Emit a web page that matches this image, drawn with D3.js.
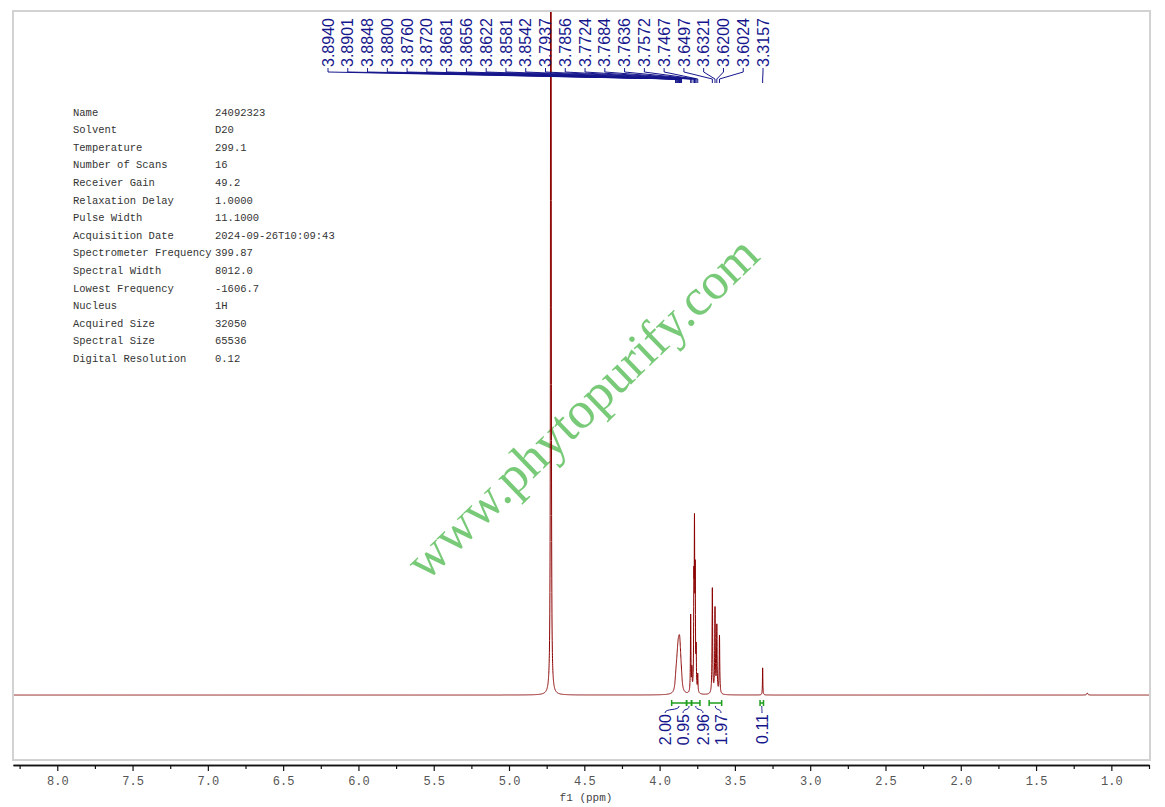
<!DOCTYPE html>
<html><head><meta charset="utf-8">
<script src="https://cdn.jsdelivr.net/npm/d3@7"></script>
<style>body{margin:0;background:#fff;overflow:hidden}</style>
</head><body><svg id="c" width="1165" height="807"></svg>
<script>
// ---- data ----
const peakPpm = [4.722,
  3.8940,3.8901,3.8848,3.8800,3.8760,3.8720,3.8681,3.8656,3.8622,3.8581,3.8542,
  3.7937,3.7856,3.7724,3.7684,3.7636,3.7572,3.7467,
  3.6497,3.6321,3.6200,3.6024,
  3.3157, 1.16];
const peakHeight = [30,
  0.03,0.05,0.075,0.09,0.10,0.10,0.095,0.085,0.07,0.05,0.035,
  0.44,0.12,0.55,0.85,0.62,0.22,0.10,
  0.60,0.48,0.38,0.33,
  0.155, 0.012];
const peakWidth = [0.0009,
  0.0055,0.0055,0.0055,0.0055,0.0055,0.0055,0.0055,0.0055,0.0055,0.0055,0.0055,
  0.0018,0.0018,0.0018,0.0018,0.0018,0.0018,0.0018,
  0.0022,0.0022,0.0022,0.0022,
  0.0015, 0.004];

const labelPpm = [3.8940,3.8901,3.8848,3.8800,3.8760,3.8720,3.8681,3.8656,3.8622,3.8581,3.8542,
  3.7937,3.7856,3.7724,3.7684,3.7636,3.7572,3.7467,3.6497,3.6321,3.6200,3.6024,3.3157];

const integralFrom = [3.920, 3.821, 3.788, 3.671, 3.333];
const integralTo   = [3.821, 3.788, 3.732, 3.588, 3.310];
const integralValue = ["2.00","0.95","2.96","1.97","0.11"];

const majorTicks = [8.0,7.5,7.0,6.5,6.0,5.5,5.0,4.5,4.0,3.5,3.0,2.5,2.0,1.5,1.0];
const majorTickLabels = ["8.0","7.5","7.0","6.5","6.0","5.5","5.0","4.5","4.0","3.5","3.0","2.5","2.0","1.5","1.0"];
const minorTicks = [8.25,7.75,7.25,6.75,6.25,5.75,5.25,4.75,4.25,3.75,3.25,2.75,2.25,1.75,1.25,0.75];

const paramNames = ["Name","Solvent","Temperature","Number of Scans","Receiver Gain","Relaxation Delay",
  "Pulse Width","Acquisition Date","Spectrometer Frequency","Spectral Width","Lowest Frequency",
  "Nucleus","Acquired Size","Spectral Size","Digital Resolution"];
const paramValues = ["24092323","D20","299.1","16","49.2","1.0000","11.1000","2024-09-26T10:09:43",
  "399.87","8012.0","-1606.7","1H","32050","65536","0.12"];

const xDomain = [8.294, 0.75];
const yDomain = [-0.369, 3.886];

// ---- layout ----
const svg = d3.select("#c");
const L = 13, R = 1149, T = 11, B = 760;
const x = d3.scaleLinear().domain(xDomain).range([L, R]);
const y = d3.scaleLinear().domain(yDomain).range([B, T]);
const navy = "#16168c";

// watermark (behind)
svg.append("text")
  .attr("transform", "translate(594,420) rotate(-44)")
  .attr("text-anchor", "middle")
  .attr("font-family", "Liberation Serif, serif")
  .attr("font-size", 52)
  .attr("fill", "#78ca78")
  .text("www.phytopurify.com");

// frame
svg.append("rect").attr("x", L).attr("y", T).attr("width", R - L + 1).attr("height", B - T)
  .attr("fill", "none").attr("stroke", "#d2d2d2").attr("stroke-width", 2);

svg.append("clipPath").attr("id", "clip").append("rect")
  .attr("x", L + 1).attr("y", T + 1).attr("width", R - L - 1).attr("height", B - T - 2);

// spectrum
const pts = [];
const step = 0.0004;
for (let p = xDomain[0]; p >= xDomain[1]; p -= step) {
  let v = 0;
  for (let k = 0; k < peakPpm.length; k++) {
    const d = (p - peakPpm[k]) / peakWidth[k];
    v += peakHeight[k] / (1 + d * d);
  }
  pts.push([p, v]);
}
svg.append("path").attr("clip-path", "url(#clip)")
  .attr("d", d3.line().x(d => x(d[0])).y(d => y(d[1]))(pts))
  .attr("fill", "none").attr("stroke", "#8b0000").attr("stroke-width", 1);

// peak labels at top
const lx0 = 328, lx1 = 763;
const gTop = svg.append("g");
labelPpm.forEach((p, i) => {
  const lx = lx0 + i * (lx1 - lx0) / (labelPpm.length - 1);
  const px = x(p);
  gTop.append("path")
    .attr("d", `M${lx},68 L${lx},72 L${px},79 L${px},83`)
    .attr("fill", "none").attr("stroke", navy).attr("stroke-width", 1);
  gTop.append("text")
    .attr("transform", `translate(${lx},67) rotate(-90)`)
    .attr("dy", "0.35em")
    .attr("font-family", "Liberation Sans, Arial, sans-serif")
    .attr("font-size", 16)
    .attr("fill", navy)
    .text(p.toFixed(4));
});

// integrals
const green = "#1f9e1f";
const intLabelX = [665, 683, 703, 721, 762];
const gInt = svg.append("g");
integralFrom.forEach((f, i) => {
  const x1 = x(f), x2 = x(integralTo[i]);
  const yb = 703;
  gInt.append("path").attr("d", `M${x1},${yb} L${x2},${yb} M${x1},${yb - 3} L${x1},${yb + 3} M${x2},${yb - 3} L${x2},${yb + 3}`)
    .attr("stroke", green).attr("stroke-width", 1.5).attr("fill", "none");
  const mx = (x1 + x2) / 2, lx = intLabelX[i];
  gInt.append("path").attr("d", `M${mx},${yb + 3} C${mx},${yb + 8} ${lx},${yb + 5} ${lx},${yb + 10}`)
    .attr("stroke", navy).attr("stroke-width", 1).attr("fill", "none");
  gInt.append("text")
    .attr("transform", `translate(${lx},${yb + 11}) rotate(-90)`)
    .attr("text-anchor", "end").attr("dy", "0.35em")
    .attr("font-family", "Liberation Sans, Arial, sans-serif")
    .attr("font-size", 16).attr("fill", navy)
    .text(integralValue[i]);
});

// axis
const axY = 765;
const minorAxis = d3.axisBottom(x).tickValues(minorTicks).tickSize(4).tickSizeOuter(0).tickFormat("");
const majorAxis = d3.axisBottom(x).tickValues(majorTicks).tickSize(6).tickSizeOuter(0)
  .tickFormat((d, i) => majorTickLabels[i]);
const gMin = svg.append("g").attr("transform", `translate(0,${axY})`).call(minorAxis);
const gMaj = svg.append("g").attr("transform", `translate(0,${axY})`).call(majorAxis);
[gMin, gMaj].forEach(g => {
  g.select(".domain").attr("stroke", "#111").attr("stroke-width", 1.6);
  g.selectAll(".tick line").attr("stroke", "#111").attr("stroke-width", 1.2);
});
gMaj.selectAll(".tick text")
  .attr("font-family", "Liberation Mono, monospace").attr("font-size", 12)
  .attr("fill", "#555").attr("dy", "0.9em");
svg.append("text").attr("x", 586).attr("y", 801).attr("text-anchor", "middle")
  .attr("font-family", "Liberation Mono, monospace").attr("font-size", 11).attr("fill", "#444")
  .text("f1 (ppm)");

// parameter table
const gP = svg.append("g").attr("font-family", "Liberation Mono, monospace").attr("font-size", 10.5).attr("fill", "#333");
paramNames.forEach((n, i) => {
  const yy = 112 + i * 17.6;
  gP.append("text").attr("x", 73).attr("y", yy).attr("dy", "0.35em").text(n);
  gP.append("text").attr("x", 215).attr("y", yy).attr("dy", "0.35em").text(paramValues[i]);
});
</script>
</body></html>
